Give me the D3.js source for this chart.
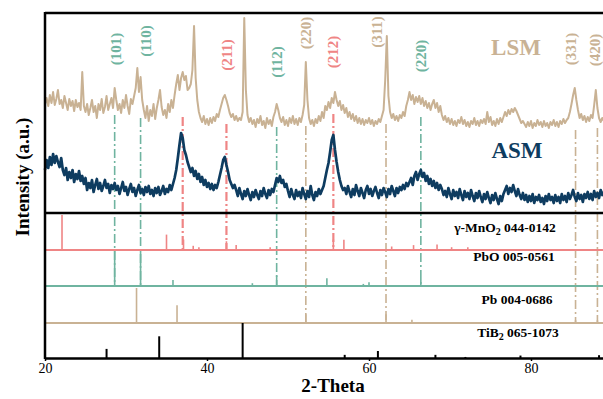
<!DOCTYPE html>
<html>
<head>
<meta charset="utf-8">
<script src="https://cdn.jsdelivr.net/npm/d3@7"></script>
<style>
  body { margin: 0; background: #fff; }
  svg { display: block; font-family: "Liberation Serif", "Times New Roman", serif; }
</style>
</head>
<body>
<svg id="chart" width="603" height="399"></svg>
<script>
// 2-theta grid, 20 to 89 deg, 0.2 deg step
var theta = d3.range(346).map(function (i) { return +(20 + i * 0.2).toFixed(1); });

// LSM pattern (a.u.)
var lsm = [
  109,115,107,118,110,121,108,114,123,109,113,105,117,110,103,114,107,112,102,113,106,110,103,141,107,101,
  109,98,105,113,101,107,95,109,103,114,100,106,117,103,109,115,105,125,113,103,
  109,100,113,105,118,107,99,114,109,117,125,145,121,136,113,103,
  95,107,92,103,97,109,94,105,113,123,106,98,103,95,109,101,113,105,
  118,129,138,123,135,141,133,137,123,125,129,143,187,135,113,101,95,
  91,97,89,94,88,95,90,96,92,99,96,103,109,115,118,113,107,100,96,99,93,97,92,95,93,101,195,123,98,91,
  95,89,93,86,94,90,97,88,92,85,95,89,93,87,96,101,109,103,95,91,96,88,93,87,95,90,97,89,94,88,95,91,98,108,
  151,113,95,89,93,87,94,90,97,92,101,95,107,103,111,105,115,110,121,113,107,112,103,108,100,
  105,96,101,94,99,92,97,90,95,89,94,88,93,90,95,89,93,87,92,89,94,91,97,103,133,
  177,117,101,95,99,93,97,92,98,95,101,97,107,113,121,113,118,109,116,111,117,109,115,107,112,
  105,110,103,109,113,105,110,101,107,98,
  93,97,91,95,89,94,88,92,87,93,90,96,89,93,87,91,86,92,89,95,88,92,87,93,90,94,89,101,91,96,88,92,87,94,89,95,91,
  96,101,97,103,99,104,101,105,102,98,94,90,92,
  89,86,91,87,92,85,90,87,93,88,91,86,92,87,90,85,91,88,93,87,91,86,92,89,94,90,93,
  95,101,109,118,125,113,103,95,99,93,97,91,96,92,98,95,108,123,105,95,91,95,92
];

// ASM pattern (a.u.)
var asm = [
  43,53,45,56,48,59,50,57,51,46,55,43,
  38,45,33,41,35,43,31,39,34,42,32,37,
  29,35,23,30,25,33,21,28,34,24,30,22,27,33,25,29,20,28,24,
  30,23,27,19,25,31,22,26,18,24,29,21,25,17,23,28,20,24,18,26,21,27,19,23,17,25,20,26,18,22,27,19,24,21,28,23,29,
  35,43,55,68,80,75,63,58,51,46,
  41,45,37,42,34,39,31,36,28,33,26,30,24,29,23,28,25,31,
  38,45,53,56,48,41,33,29,25,28,
  23,17,25,19,14,22,17,24,18,13,21,16,23,18,14,22,17,25,19,15,23,18,24,21,
  28,35,31,37,30,33,26,29,
  22,16,24,18,14,23,17,21,15,25,19,14,22,16,27,18,13,21,17,24,19,23,27,
  35,43,50,61,73,78,63,51,41,33,27,23,
  25,19,27,21,16,24,18,28,22,17,25,20,15,23,27,19,24,17,22,26,20,15,23,18,25,21,16,24,19,27,22,17,25,20,26,23,28,24,30,27,
  31,35,28,37,41,33,39,43,36,40,32,37,29,34,27,32,25,30,23,28,
  24,18,22,16,25,19,14,23,17,21,15,24,18,13,22,16,20,14,23,17,
  12,20,15,22,16,11,19,14,21,15,10,18,13,20,14,9,17,12,19,23,
  27,19,25,21,28,22,17,24,18,14,20,13,18,11,17,12,19,10,16,13,
  18,11,15,9,17,12,19,13,16,10,18,12,16,10,19,13,17,11,20,14,
  18,23,16,12,20,14,18,11,19,15,21,14,19,13,22,16,20,15,23,18,
  21
];

// standard cards (stick positions and relative intensities)
var cardNames = ["γ-MnO|2| 044-0142", "PbO 005-0561", "Pb 004-0686", "TiB|2| 065-1073"];
var mno2Pos = [22.1, 35.0, 37.1, 38.3, 39.0, 42.4, 43.6, 47.8, 55.6, 56.9, 62.8, 65.5, 68.4, 70.2, 72.2];
var mno2Int = [100, 44, 30, 12, 8, 25, 14, 8, 30, 29, 10, 14, 16, 8, 8];
var pboPos = [28.6, 31.8, 35.8, 45.6, 48.6, 54.8, 59.3, 60.0, 66.4];
var pboInt = [100, 100, 17, 8, 30, 22, 6, 11, 20];
var pbPos = [31.3, 36.3, 52.2, 62.1, 65.3, 85.5, 88.2];
var pbInt = [100, 51, 25, 25, 9, 8, 8];
var tib2Pos = [27.6, 34.1, 44.4, 57.0, 61.1, 68.2, 71.9, 78.7, 88.4];
var tib2Int = [26, 62, 100, 9, 20, 9, 3, 7, 8];

// indexed reflections
var hklText = ["(101)", "(110)", "(211)", "(112)", "(220)", "(212)", "(311)", "(220)", "(331)", "(420)"];
var hklPos = [28.6, 31.8, 42.4, 48.6, 52.2, 55.6, 62.1, 66.4, 85.5, 88.2];
var hklPhase = [1, 1, 0, 1, 2, 0, 2, 1, 2, 2];
var extraLinePos = [37.0];
var extraLinePhase = [0];

var xTicks = [20, 40, 60, 80];

// ---- layout / style ----
var phaseColor = ["#ef8585", "#6fb4a0", "#c9b294", "#000000"];
var lsmColor = "#c9b294";
var asmColor = "#0e3c60";
var baselines = [250, 286, 323, 358];
var labelY = [49, 41, 55, 62, 33, 52, 32, 56, 49, 50];
var labelDx = [1, 5, 1, 0, 0, 0, -9, 0, -5, -2];
var lineTop = [115, 118, 124, 127, 126, 114, 124, 117, 130, 128];

var svg = d3.select("#chart");

var x = d3.scaleLinear().domain([20, 90]).range([45, 612]);
var y = d3.scaleLinear().domain([0, 200]).range([213, 13]);
var stick = d3.scaleLinear().domain([0, 100]).range([0, 35]);

// dashed guide lines
var guides = hklPos.map(function (p, i) { return { pos: p, phase: hklPhase[i], top: lineTop[i] }; });
guides.push({ pos: extraLinePos[0], phase: extraLinePhase[0], top: 117 });

svg.append("g").selectAll("line")
  .data(guides)
  .enter().append("line")
  .attr("x1", function (d) { return x(d.pos); })
  .attr("x2", function (d) { return x(d.pos); })
  .attr("y1", function (d) { return d.top; })
  .attr("y2", function (d) { return baselines[d.phase]; })
  .attr("stroke", function (d) { return phaseColor[d.phase]; })
  .attr("stroke-width", function (d) { return d.phase === 0 ? 2.2 : 1.6; })
  .attr("stroke-dasharray", "9,3,2,3");

// patterns
var line = d3.line()
  .x(function (d, i) { return x(theta[i]); })
  .y(function (d) { return y(d); });

svg.append("path").datum(lsm)
  .attr("d", line)
  .attr("fill", "none")
  .attr("stroke", lsmColor)
  .attr("stroke-width", 2)
  .attr("stroke-linejoin", "round");

svg.append("path").datum(asm)
  .attr("d", line)
  .attr("fill", "none")
  .attr("stroke", asmColor)
  .attr("stroke-width", 2.7)
  .attr("stroke-linejoin", "round");

// reference sticks
var cards = [[mno2Pos, mno2Int], [pboPos, pboInt], [pbPos, pbInt], [tib2Pos, tib2Int]];
cards.forEach(function (c, k) {
  var g = svg.append("g");
  if (k < 3) {
    g.append("line")
      .attr("x1", 45).attr("x2", 603)
      .attr("y1", baselines[k]).attr("y2", baselines[k])
      .attr("stroke", phaseColor[k]).attr("stroke-width", 2);
  }
  g.selectAll(".st")
    .data(c[0])
    .enter().append("line")
    .attr("x1", function (d) { return x(d); })
    .attr("x2", function (d) { return x(d); })
    .attr("y1", baselines[k])
    .attr("y2", function (d, i) { return baselines[k] - stick(c[1][i]); })
    .attr("stroke", phaseColor[k])
    .attr("stroke-width", k === 3 ? 2 : 1.6);
});

// card labels
var cardX = [505, 514, 517, 518];
var cardY = [232, 261, 304, 337];
cardNames.forEach(function (n, k) {
  var t = svg.append("text")
    .attr("x", cardX[k]).attr("y", cardY[k])
    .attr("text-anchor", "middle")
    .attr("font-size", 13.5).attr("font-weight", "bold");
  n.split("|").forEach(function (part, j) {
    var ts = t.append("tspan").text(part);
    if (j === 1) ts.attr("font-size", 10).attr("dy", 3);
    if (j === 2) ts.attr("dy", -3);
  });
});

// hkl labels
svg.append("g").selectAll("text")
  .data(hklText)
  .enter().append("text")
  .attr("transform", function (d, i) {
    return "translate(" + (x(hklPos[i]) + labelDx[i]) + "," + labelY[i] + ") rotate(-90)";
  })
  .attr("text-anchor", "middle")
  .attr("dominant-baseline", "central")
  .attr("font-size", 15)
  .attr("font-weight", "bold")
  .attr("fill", function (d, i) { return phaseColor[hklPhase[i]]; })
  .text(function (d) { return d; });

// sample names
svg.append("text").attr("x", 516).attr("y", 55).attr("text-anchor", "middle")
  .attr("font-size", 23).attr("font-weight", "bold").attr("fill", lsmColor).text("LSM");
svg.append("text").attr("x", 517).attr("y", 158).attr("text-anchor", "middle")
  .attr("font-size", 23).attr("font-weight", "bold").attr("fill", asmColor).text("ASM");

// frame
svg.append("line").attr("x1", 45).attr("x2", 603).attr("y1", 13).attr("y2", 13)
  .attr("stroke", "#000").attr("stroke-width", 2.5);
svg.append("line").attr("x1", 45).attr("x2", 603).attr("y1", 213).attr("y2", 213)
  .attr("stroke", "#000").attr("stroke-width", 2.5);
svg.append("line").attr("x1", 45).attr("x2", 45).attr("y1", 12).attr("y2", 359)
  .attr("stroke", "#000").attr("stroke-width", 2.5);

// x axis
var xAxis = svg.append("g")
  .attr("transform", "translate(0,358)")
  .call(d3.axisBottom(x).tickValues(xTicks).tickSize(3).tickSizeOuter(0).tickPadding(2));
xAxis.select(".domain").attr("stroke-width", 2.5);
xAxis.selectAll("line").attr("stroke-width", 1.5);
xAxis.selectAll("text").attr("font-size", 14).attr("font-family", "Liberation Serif").attr("fill", "#000");

// axis titles
svg.append("text").attr("x", 333).attr("y", 392).attr("text-anchor", "middle")
  .attr("font-size", 19).attr("font-weight", "bold").text("2-Theta");
svg.append("text").attr("transform", "translate(22,177) rotate(-90)")
  .attr("text-anchor", "middle").attr("dominant-baseline", "central")
  .attr("font-size", 19).attr("font-weight", "bold").text("Intensity (a.u.)");
</script>
</body>
</html>
